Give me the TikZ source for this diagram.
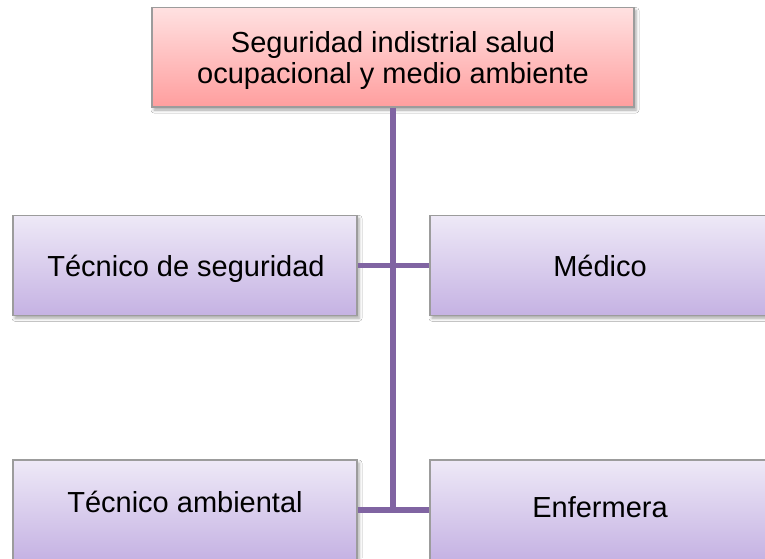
\documentclass[tikz,border=0pt]{standalone}
\usepackage{fontspec}
\setmainfont{Liberation Sans}
\usetikzlibrary{shadows.blur}
\definecolor{linepurple}{HTML}{8064A2}
\definecolor{pinktop}{HTML}{FFE1E1}
\definecolor{pinkbot}{HTML}{FF9E9E}
\definecolor{purptop}{HTML}{EEE9F7}
\definecolor{purpbot}{HTML}{C5B2E3}
\definecolor{edgegray}{HTML}{9C9C9C}
\tikzset{
  basebox/.style={rectangle, draw=edgegray, line width=1.2pt, inner sep=0pt,
    blur shadow={shadow xshift=2pt, shadow yshift=-3pt, shadow blur radius=3pt, shadow opacity=35}},
  pinkbox/.style={basebox, top color=pinktop, bottom color=pinkbot},
  purplebox/.style={basebox, top color=purptop, bottom color=purpbot,
    minimum width=344pt, minimum height=100pt},
  lbl/.style={inner sep=0pt, font=\fontsize{29}{31}\selectfont, text=black},
  conn/.style={draw=linepurple, line width=5.5pt}
}
\begin{document}
\begin{tikzpicture}[x=1pt, y=-1pt]
\useasboundingbox (0,0) rectangle (765,558);
\clip (0,0) rectangle (765,558);
\fill[white] (0,0) rectangle (765,558);
% boxes
\node[pinkbox, minimum width=482pt, minimum height=99.5pt] (top) at (393,57.25) {};
\node[purplebox] (ml) at (185,265.3) {};
\node[purplebox] (mr) at (602,265.3) {};
\node[purplebox] (bl) at (185,510) {};
\node[purplebox] (br) at (602,510) {};
% connectors
\coordinate (j2) at (393,510);
\draw[conn] (top.south) -- (j2);
\draw[conn] (ml.east) -- (mr.west);
\draw[conn] (bl.east) -- (br.west);
% texts
\node[lbl, align=center, anchor=base] (ttop) at (393,83) {Seguridad indistrial salud\\ocupacional y medio ambiente};
\node[lbl, anchor=base] (tml) at (186,276) {Técnico de seguridad};
\node[lbl, anchor=base] (tmr) at (600,276) {Médico};
\node[lbl, anchor=base] (tbl) at (185,512.5) {Técnico ambiental};
\node[lbl, anchor=base] (tbr) at (600,517.5) {Enfermera};
\end{tikzpicture}
\end{document}
